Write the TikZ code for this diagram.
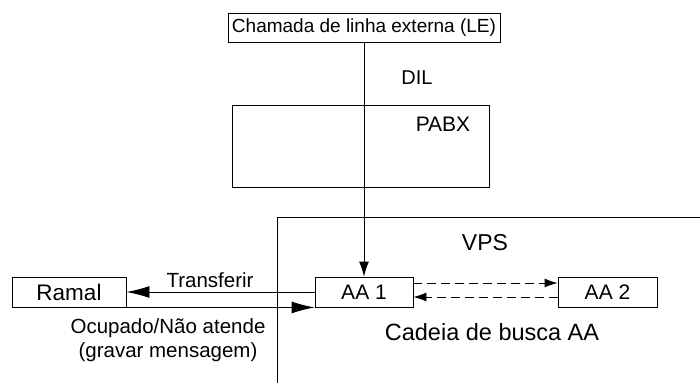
\documentclass[tikz,border=0pt]{standalone}
\usepackage{fontspec}
\setmainfont{Liberation Sans}
\usetikzlibrary{arrows.meta}
\tikzset{
    plain-box/.style = {draw, line width=0.9pt, inner sep=0pt, minimum height=30pt, font=\fontsize{21}{24}\selectfont},
    plain-text/.style = {inner sep=0pt, font=\fontsize{21}{24}\selectfont},
    big-arrow/.style = {line width=0.9pt, -{Latex[length=23pt,width=12pt]}},
    small-arrow/.style = {line width=0.9pt, -{Latex[length=15pt,width=10pt]}},
    dash-arrow/.style = {line width=0.9pt, dash pattern=on 9pt off 5pt, -{Latex[length=13pt,width=9pt]}},
}

\begin{document}
\begin{tikzpicture}[x=1pt, y=-1pt]
\useasboundingbox (0,0) rectangle (700,383);
\node[plain-box, minimum width=272pt, minimum height=29pt, font=\fontsize{19}{22}\selectfont] (le) at (364,27.5) {Chamada de linha externa (LE)};
\node[plain-text, font=\fontsize{20}{24}\selectfont] (dil) at (417,78) {DIL};
\node[draw, line width=0.9pt, minimum width=257pt, minimum height=82pt] (pabx) at (360.5,146) {};
\node[plain-text] (pabx-label) at (443,124) {PABX};
\draw[line width=0.9pt] (277,383) -- (277,217) -- (700,217);
\node[plain-text, font=\fontsize{23}{26}\selectfont] (vps) at (485,243) {VPS};
\node[plain-box, minimum width=98pt] (aa1) at (364,292) {AA 1};
\node[plain-box, minimum width=99pt] (aa2) at (607.5,292) {AA 2};
\node[plain-box, minimum width=114pt, font=\fontsize{22.5}{26}\selectfont] (ramal) at (69,292) {Ramal};
\node[plain-text, font=\fontsize{23.5}{26}\selectfont] (cadeia) at (492,332) {Cadeia de busca AA};
\node[plain-text, font=\fontsize{20.5}{24}\selectfont] (transferir) at (210,280) {Transferir};
\node[plain-text, font=\fontsize{20.5}{24}\selectfont, align=center] (ocupado) at (168,340) {Ocupado/Não atende\\(gravar mensagem)};

\draw[small-arrow] (le.south) -- (aa1.north);
\draw[big-arrow] (aa1.west) -- (ramal.east);
\draw[big-arrow] (ramal.south east) -- (aa1.south west);
\draw[dash-arrow] ([yshift=9pt]aa1.east) -- ([yshift=9pt]aa2.west);
\draw[dash-arrow] ([yshift=-5pt]aa2.west) -- ([yshift=-5pt]aa1.east);
\end{tikzpicture}
\end{document}
